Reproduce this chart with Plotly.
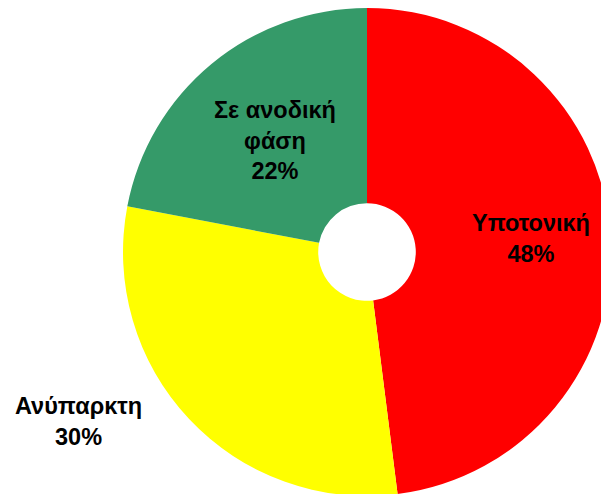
import plotly.graph_objects as go

labels = ["Υποτονική", "Ανύπαρκτη", "Σε ανοδική<br>φάση"]
values = [48, 30, 22]
colors = ["#ff0000", "#ffff00", "#359a69"]

# where each label is written (paper coords)
label_x = [0.869, 0.1277, 0.4501]
label_y = [0.5249, 0.1594, 0.7211]

W, H = 611, 502  # a little larger than the window: the pie runs off the right and bottom edges

fig = go.Figure()
fig.add_trace(go.Pie(
    labels=labels,
    values=values,
    hole=0.2,
    sort=False,
    direction="clockwise",
    rotation=0,
    marker=dict(colors=colors, line=dict(width=0)),
    textinfo="none",
    domain=dict(x=[123 / W, 1.0], y=[1 - 496 / H, 1 - 8 / H]),
    showlegend=False,
    hoverinfo="label+percent",
))

total = sum(values)
for lab, v, lx, ly in zip(labels, values, label_x, label_y):
    fig.add_annotation(
        x=lx, y=ly, xref="paper", yref="paper",
        xanchor="center", yanchor="middle",
        text=f"{lab}<br>{round(100 * v / total)}%",
        showarrow=False,
        font=dict(family="Liberation Sans, Arial", size=23.5, color="black", weight="bold"),
    )

fig.update_layout(
    width=W, height=H,
    margin=dict(l=0, r=0, t=0, b=0),
    paper_bgcolor="white",
    plot_bgcolor="white",
)
fig.write_html(
    "out.html",
    config={"displayModeBar": False},
    post_script="document.body.style.margin='0px';"
                "document.body.style.overflow='hidden';"
                "document.documentElement.style.overflow='hidden';",
)
